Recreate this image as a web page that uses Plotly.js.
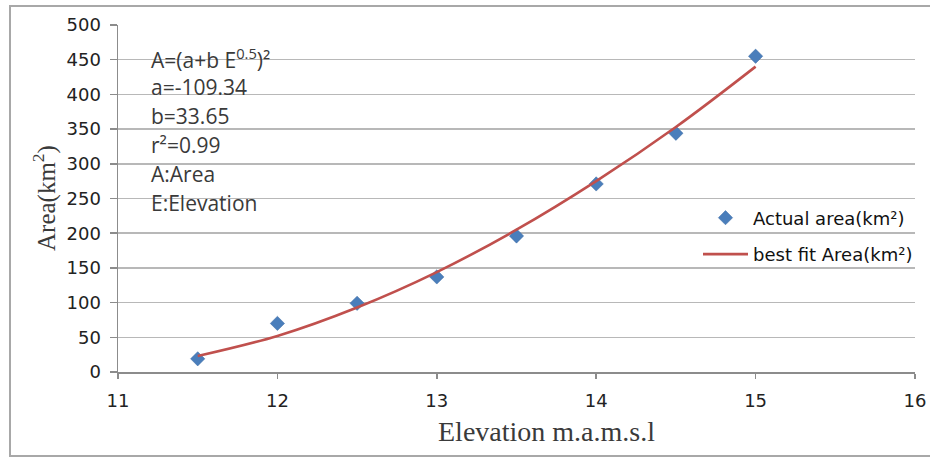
<!DOCTYPE html>
<html>
<head>
<meta charset="utf-8">
<script src="https://cdn.plot.ly/plotly-3.0.1.min.js"></script>
<style>
  html, body { margin: 0; padding: 0; background: #fff; }
  #wrap { position: relative; width: 930px; height: 462px; overflow: hidden; }
  #frame { position: absolute; left: 9px; top: 5px; width: 930px; height: 452px; border: 2px solid #a8a8a8; box-sizing: border-box; pointer-events: none; }
  #chart { position: absolute; left: 0; top: 0; width: 930px; height: 462px; }
</style>
</head>
<body>
<div id="wrap">
  <div id="chart"></div>
  <div id="frame"></div>
</div>
<script>
// ---- data ----
const elevation = [11.5, 12, 12.5, 13, 13.5, 14, 14.5, 15];
const actualArea = [19, 70, 99, 137, 196, 271, 344, 455];
const fitArea = [23, 52, 93, 144, 205, 275, 353, 440];
const seriesNames = ['Actual area(km²)', 'best fit Area(km²)'];
const xTicks = [11, 12, 13, 14, 15, 16];
const yTicks = [0, 50, 100, 150, 200, 250, 300, 350, 400, 450, 500];
const noteLines = ['A=(a+b E<sup>0.5</sup>)²', 'a=-109.34', 'b=33.65', 'r²=0.99', 'A:Area', 'E:Elevation'];
const xTitle = 'Elevation m.a.m.s.l';
const yTitle = 'Area(km<sup>2</sup>)';

// ---- layout geometry (pixels) ----
const W = 930, H = 462;
const mL = 118, mR = 15, mT = 25, mB = 90;
const pw = W - mL - mR, ph = H - mT - mB;
const px2x = p => (p - mL) / pw;
const px2y = p => (H - mB - p) / ph;

const traces = [
  {
    x: elevation, y: actualArea, name: seriesNames[0],
    type: 'scatter', mode: 'markers',
    marker: { symbol: 'diamond', size: 11, color: '#4a7ebb', line: { width: 0.5, color: '#3d6aa3' } },
    legendgroup: 'a'
  },
  {
    x: elevation, y: fitArea, name: seriesNames[1],
    type: 'scatter', mode: 'lines',
    line: { color: '#c0504d', width: 2.6, shape: 'spline', smoothing: 1 },
    legendgroup: 'b'
  }
];

const annotations = noteLines.map((t, i) => ({
  text: t, xref: 'paper', yref: 'paper',
  x: px2x(149), y: px2y(58 + i * 29),
  xanchor: 'left', yanchor: 'middle', showarrow: false,
  font: { family: 'Open Sans, sans-serif', size: 21, color: '#3a3a3a' }
}));
annotations.push({
  text: xTitle, xref: 'paper', yref: 'paper',
  x: px2x(546), y: px2y(431), xanchor: 'center', yanchor: 'middle', showarrow: false,
  font: { family: 'Liberation Serif, Times New Roman, serif', size: 28, color: '#3a3a3a' }
});
annotations.push({
  text: yTitle, xref: 'paper', yref: 'paper',
  x: px2x(44), y: px2y(198), xanchor: 'center', yanchor: 'middle', showarrow: false,
  textangle: -90,
  font: { family: 'Liberation Serif, Times New Roman, serif', size: 25, color: '#3a3a3a' }
});

const tickFont = { family: 'DejaVu Sans, sans-serif', size: 18, color: '#222222' };

const layout = {
  width: W, height: H,
  margin: { l: mL, r: mR, t: mT, b: mB, pad: 0, autoexpand: false },
  paper_bgcolor: '#ffffff', plot_bgcolor: '#ffffff',
  showlegend: true,
  legend: {
    xref: 'container', yref: 'container',
    x: 698 / W, y: 1 - 236 / H, xanchor: 'left', yanchor: 'middle',
    bgcolor: 'rgba(0,0,0,0)', borderwidth: 0,
    font: { family: 'DejaVu Sans, sans-serif', size: 18, color: '#111111' },
    itemwidth: 45, tracegroupgap: 10, traceorder: 'grouped'
  },
  xaxis: {
    range: [11, 16], tickvals: xTicks, ticktext: xTicks.map(String),
    showgrid: false, zeroline: false, automargin: false,
    showline: true, linecolor: '#8c8c8c', linewidth: 1.5,
    ticks: 'outside', ticklen: 5, tickcolor: '#8c8c8c', tickwidth: 1.5,
    tickfont: tickFont, ticklabelstandoff: 7
  },
  yaxis: {
    range: [0, 500], tickvals: yTicks, ticktext: yTicks.map(String),
    showgrid: true, gridcolor: '#b8b8b8', gridwidth: 1.5, zeroline: false, automargin: false,
    showline: true, linecolor: '#8c8c8c', linewidth: 1.5,
    ticks: 'outside', ticklen: 7, tickcolor: '#8c8c8c', tickwidth: 1.5,
    tickfont: tickFont, ticklabelstandoff: 5
  },
  annotations: annotations
};

Plotly.newPlot('chart', traces, layout, { displayModeBar: false, staticPlot: true });
</script>
</body>
</html>
